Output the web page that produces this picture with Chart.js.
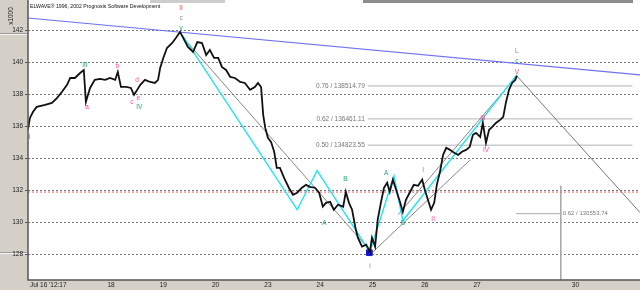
<!DOCTYPE html>
<html>
<head>
<meta charset="utf-8">
<script src="https://cdn.jsdelivr.net/npm/chart.js@4/dist/chart.umd.min.js"></script>
<style>
  html, body { margin: 0; padding: 0; background: #d4d0c8; }
  #wrap { width: 640px; height: 290px; }
</style>
</head>
<body>
<div id="wrap"><canvas id="elwave" width="640" height="290"></canvas></div>
<script>
// axis ticks (x = trading days after 17 Jul)
const xTickPos = [-0.2, 1, 2, 3, 4, 5, 6, 7, 8, 9.88];
const xTickLabels = ["Jul 16 '12:17", '18', '19', '20', '23', '24', '25', '26', '27', '30'];
const yTicks = [128, 130, 132, 134, 136, 138, 140, 142];

// price (x1000)
const priceX = [-0.59,-0.55,-0.49,-0.42,-0.26,-0.13,-0.03,0.06,0.16,0.22,
  0.31,0.41,0.48,0.52,0.56,0.60,0.69,0.79,0.89,0.98,
  1.08,1.13,1.19,1.29,1.38,1.44,1.50,1.56,1.65,1.75,
  1.84,1.90,1.94,2.00,2.07,2.17,2.24,2.32,2.40,2.47,
  2.57,2.65,2.74,2.82,2.89,2.97,3.05,3.12,3.20,3.28,
  3.37,3.47,3.56,3.66,3.75,3.81,3.87,3.91,3.95,4.00,
  4.06,4.12,4.17,4.23,4.31,4.40,4.48,4.56,4.65,4.73,
  4.80,4.90,4.98,5.05,5.11,5.19,5.26,5.34,5.44,5.49,
  5.55,5.61,5.67,5.72,5.80,5.88,5.95,5.99,6.05,6.10,
  6.16,6.22,6.28,6.33,6.39,6.47,6.53,6.58,6.64,6.72,
  6.79,6.87,6.95,7.00,7.06,7.12,7.18,7.23,7.29,7.35,
  7.41,7.48,7.56,7.64,7.71,7.79,7.86,7.92,7.98,8.06,
  8.11,8.17,8.23,8.29,8.36,8.44,8.50,8.55,8.61,8.67,
  8.73,8.76];
const priceY = [135.78,136.52,136.90,137.21,137.33,137.46,137.77,138.14,138.58,139.01,
  139.01,139.32,139.51,137.52,137.96,138.39,138.89,138.95,138.89,139.01,
  138.89,139.39,138.45,138.45,138.39,137.96,138.27,138.58,138.89,138.76,
  138.70,138.89,139.64,140.26,140.88,141.19,141.50,141.88,141.38,140.94,
  140.63,141.25,141.19,140.44,140.76,140.26,140.26,139.70,139.51,139.08,
  139.01,138.76,138.70,138.27,138.45,138.70,138.45,136.71,135.90,135.28,
  135.03,134.41,133.41,133.41,132.79,132.17,131.73,131.86,132.17,132.35,
  132.23,132.17,131.86,130.99,131.23,131.30,130.80,131.11,130.99,131.92,
  131.23,130.80,129.74,129.06,128.50,128.62,128.18,129.06,128.50,130.18,
  131.23,132.17,132.48,131.92,132.67,131.86,131.23,130.67,131.42,131.92,
  132.35,132.29,132.67,132.04,131.42,130.80,131.23,132.35,133.16,134.22,
  134.66,134.53,134.35,134.22,134.41,134.53,134.72,135.47,135.59,135.34,
  136.21,134.97,135.78,135.96,136.21,136.40,136.59,137.46,138.27,138.70,
  138.89,139.14];

// wave zigzag and guide lines
const waveX = [2.36, 4.56, 4.94, 5.95, 6.41, 6.58, 8.76];
const waveY = [141.69, 130.80, 133.23, 128.18, 132.91, 130.11, 139.20];
const trendX = [-0.59, 11.12];
const trendY = [142.75, 139.20];
const downGuideX = [2.42, 5.99];
const downGuideY = [141.38, 128.12];
const upGuideX = [5.99, 7.87];
const upGuideY = [128.12, 133.91];
const upGuide2X = [6.49, 8.76];
const upGuide2Y = [130.49, 139.14];
const projX = [8.76, 11.12];
const projY = [139.14, 130.61];

// fibonacci levels
const fibRatios = ['0.76', '0.62', '0.50'];
const fibLevels = [138.51479, 136.46111, 134.82355];
const fibRange = [5.91, 10.97];
const extRatio = '0.62';
const extLevel = 130.55374;
const extRange = [8.75, 9.60];
const timeMarkX = 9.60;
const timeMarkTop = 132.29;
const redLevel = 131.9;
const lowMark = [5.94, 128.12];

// wave labels [text, x, y]
const pinkLabels = [['a',0.54,137.21],['b',1.12,139.76],['c',1.40,137.52],['d',1.50,138.89],['e',1.52,137.77],
  ['I',6.97,133.29],['II',7.16,130.18],['III',8.11,136.52],['IV',8.17,134.53],['V',8.76,139.39]];
const greenLabels = [['I',-0.56,135.35],['III',0.50,139.82],['IV',1.54,137.21],['v',2.34,142.12],
  ['A',5.08,129.99],['B',5.48,132.73],['A',6.26,133.10],['B',6.58,129.99],['c',8.76,140.07]];
const grayLabels = [['c',2.34,142.75],['i',5.95,127.25],['L',8.76,140.69]];
const redLabels = [['II',2.34,143.37]];

const X_MIN = -0.587, X_MAX = 11.115, Y_MIN = 126.42, Y_MAX = 143.87;
const FONT = 'Liberation Sans, Arial, sans-serif';

const pts = (xs, ys) => xs.map((x, i) => ({ x: x, y: ys[i] }));
const seg = (data, color, width, dash) => ({
  data: data, showLine: true, borderColor: color, borderWidth: width,
  borderDash: dash || [], pointRadius: 0, fill: false
});

const datasets = [
  seg(pts(priceX, priceY), '#111', 1.8),
  { data: [{ x: lowMark[0], y: lowMark[1] }], pointStyle: 'rect', pointRadius: 4,
    backgroundColor: '#1515d8', borderColor: '#1515d8', showLine: false },
  seg(pts(waveX, waveY), '#22e4f0', 1.4),
  seg(pts(downGuideX, downGuideY), '#888', 1),
  seg(pts(upGuideX, upGuideY), '#888', 1),
  seg(pts(upGuide2X, upGuide2Y), '#888', 1),
  seg(pts(projX, projY), '#777', 1),
  seg(pts(trendX, trendY), '#7070f0', 1.2),
  seg(pts([X_MIN, X_MAX], [redLevel, redLevel]), '#f06060', 1, [2, 2]),
  seg(pts([timeMarkX, timeMarkX], [timeMarkTop, Y_MIN]), '#aaa', 1),
  seg(pts(extRange, [extLevel, extLevel]), '#aaa', 1)
];
fibLevels.forEach(v => datasets.push(seg(pts(fibRange, [v, v]), '#b4b4b4', 1)));

function txt(ctx, s, x, y, color, align, size) {
  ctx.fillStyle = color;
  ctx.textAlign = align || 'center';
  ctx.textBaseline = 'middle';
  ctx.font = (size || 6.5) + 'px ' + FONT;
  ctx.fillText(s, x, y);
}

const panels = {
  id: 'panels',
  beforeDraw(chart) {
    const { ctx, chartArea: a, width, height } = chart;
    ctx.save();
    ctx.fillStyle = '#d4d0c8';
    ctx.fillRect(0, 0, width, height);
    ctx.fillStyle = '#fff';
    ctx.fillRect(a.left, a.top, a.right - a.left, a.bottom - a.top);
    // left panel separators (under the tick labels)
    ctx.lineWidth = 1;
    ctx.strokeStyle = '#9a9a9a';
    ctx.beginPath();
    ctx.moveTo(0, 33.5); ctx.lineTo(a.left - 1, 33.5);
    ctx.moveTo(0, 252.5); ctx.lineTo(a.left - 1, 252.5);
    ctx.stroke();
    ctx.strokeStyle = '#f4f4f4';
    ctx.beginPath();
    ctx.moveTo(0, 34.5); ctx.lineTo(a.left - 1, 34.5);
    ctx.moveTo(0, 253.5); ctx.lineTo(a.left - 1, 253.5);
    ctx.stroke();
    ctx.restore();
  },
  afterDraw(chart) {
    const { ctx, chartArea: a } = chart;
    const sx = chart.scales.x, sy = chart.scales.y;
    ctx.save();
    // frame
    ctx.strokeStyle = '#555';
    ctx.lineWidth = 1.5;
    ctx.beginPath();
    ctx.moveTo(a.left, a.top); ctx.lineTo(a.left, a.bottom); ctx.lineTo(a.right, a.bottom);
    ctx.stroke();
    // top shadow bar
    ctx.fillStyle = 'rgba(200,200,200,0.9)';
    ctx.fillRect(150, 0, 75, 3);
    ctx.fillStyle = 'rgba(120,120,120,0.85)';
    ctx.fillRect(363, 0, 270, 3);
    // y-axis unit
    ctx.save();
    ctx.translate(11, 16);
    ctx.rotate(-Math.PI / 2);
    txt(ctx, 'x1000', 0, 0, '#222', 'center', 6.5);
    ctx.restore();
    txt(ctx, 'ELWAVE\u00ae 1996, 2002 Prognosis Software Development', 30, 7, '#111', 'left', 5.2);
    // fibonacci labels
    fibLevels.forEach((v, i) => {
      txt(ctx, fibRatios[i] + ' / ' + (v * 1000).toFixed(2), sx.getPixelForValue(fibRange[0]) - 3,
        sy.getPixelForValue(v), '#777', 'right', 6.5);
    });
    txt(ctx, extRatio + ' / ' + (extLevel * 1000).toFixed(2), sx.getPixelForValue(extRange[1]) + 2,
      sy.getPixelForValue(extLevel), '#777', 'left', 6);
    // wave labels
    const put = (list, color) => list.forEach(l =>
      txt(ctx, l[0], sx.getPixelForValue(l[1]), sy.getPixelForValue(l[2]), color, 'center', 6.5));
    put(pinkLabels, '#f0509a');
    put(greenLabels, '#22a87a');
    put(grayLabels, '#888');
    put(redLabels, '#e04848');
    ctx.restore();
  }
};

new Chart(document.getElementById('elwave'), {
  type: 'scatter',
  data: { datasets: datasets },
  options: {
    responsive: false,
    animation: false,
    layout: { padding: 0, autoPadding: false },
    plugins: { legend: { display: false }, tooltip: { enabled: false } },
    scales: {
      x: {
        type: 'linear', min: X_MIN, max: X_MAX,
        afterFit(s) { s.height = 10; s.paddingLeft = 0; s.paddingRight = 0; },
        afterBuildTicks(s) { s.ticks = xTickPos.map(v => ({ value: v })); },
        ticks: {
          autoSkip: false, maxRotation: 0, padding: 1, color: '#222',
          font: { size: 6.5, family: FONT },
          callback: (v, i) => xTickLabels[i]
        },
        grid: { display: false, drawTicks: false },
        border: { display: false }
      },
      y: {
        type: 'linear', min: Y_MIN, max: Y_MAX,
        afterFit(s) { s.width = 28; s.paddingTop = 0; s.paddingBottom = 0; },
        afterBuildTicks(s) { s.ticks = yTicks.map(v => ({ value: v })); },
        ticks: { padding: 2, color: '#222', font: { size: 6.5, family: FONT } },
        grid: { color: '#777', lineWidth: 1, tickLength: 3, tickColor: '#555' },
        border: { display: false, dash: [2, 2] }
      }
    }
  },
  plugins: [panels]
});
</script>
</body>
</html>
